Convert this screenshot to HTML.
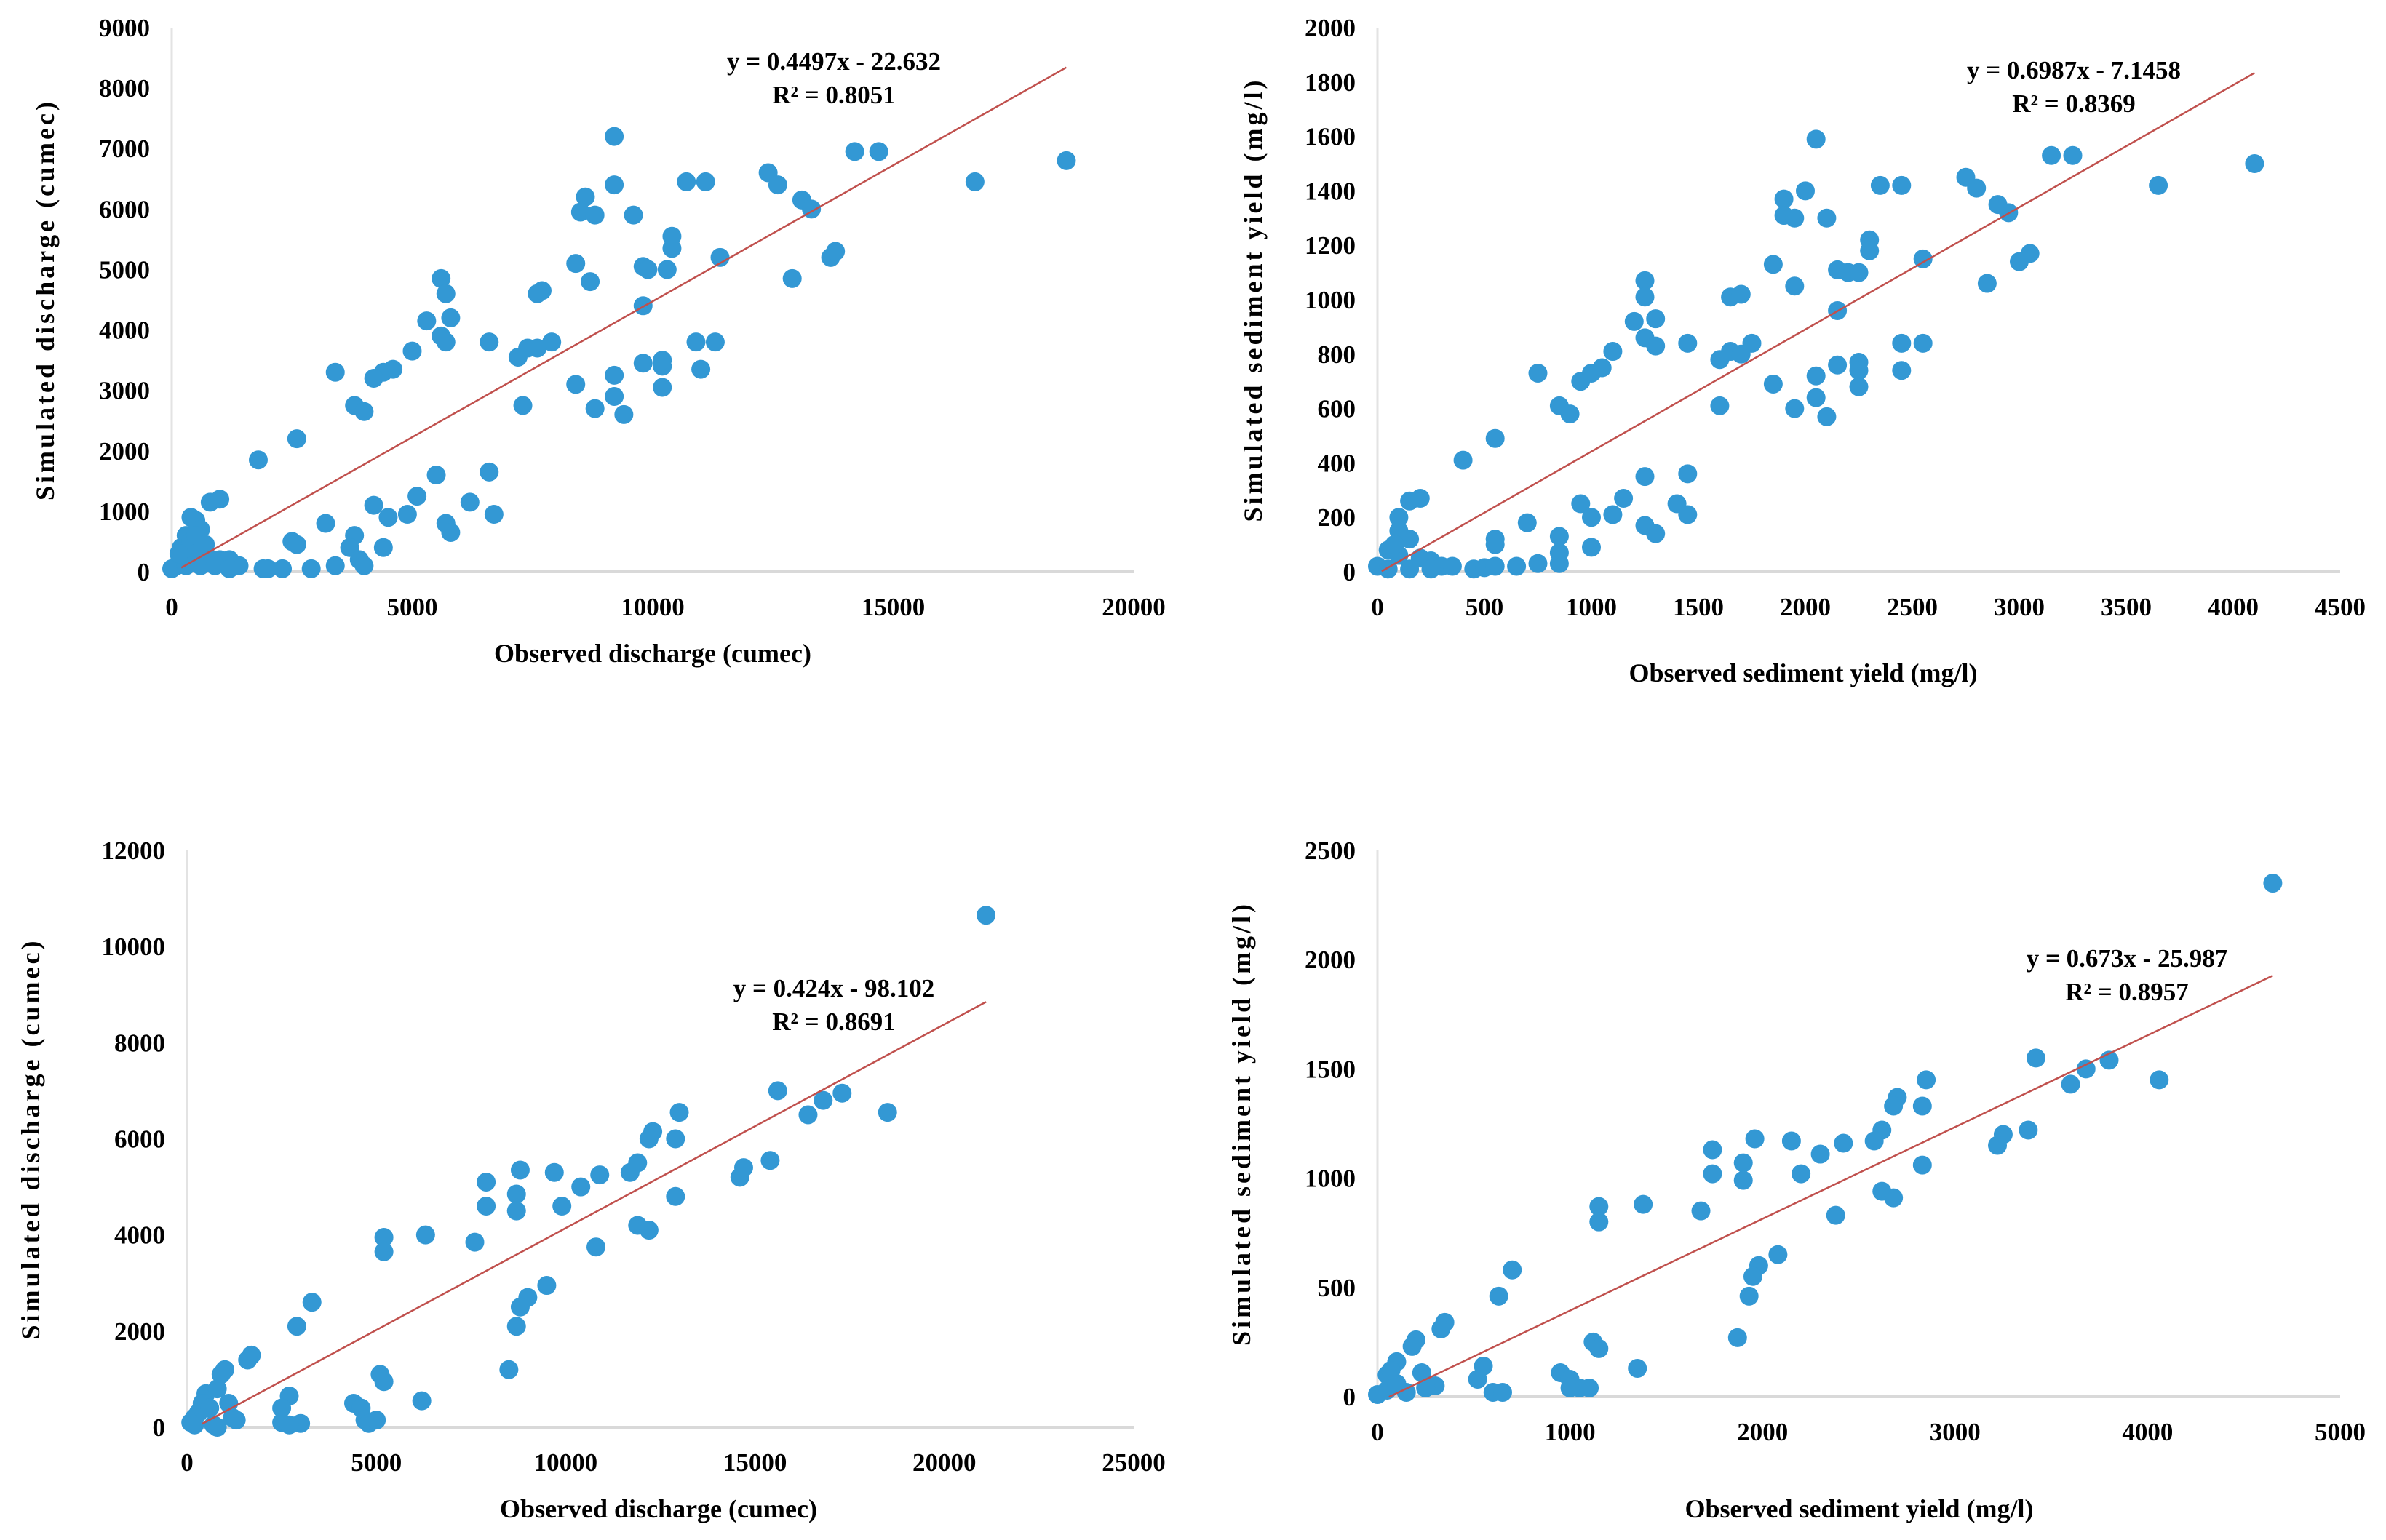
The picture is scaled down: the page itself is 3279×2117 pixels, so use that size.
<!DOCTYPE html>
<html><head><meta charset="utf-8">
<style>
html,body{margin:0;padding:0;background:#fff;}
svg{display:block;font-family:"Liberation Serif",serif;font-weight:bold;}
</style></head>
<body>
<svg id="fig" width="3279" height="2117" viewBox="0 0 3279 2117" xmlns="http://www.w3.org/2000/svg"></svg>
<script>
// ---- data ----
const obsQ1 = [9200,14200,14700,18600,16700,12400,12600,10700,11100,9200,8600,8500,8800,9600,13100,13300,10400,10400,11400,13700,13800,12900,8400,9800,9900,10300,8700,5600,5700,7600,7700,9800,5300,5800,5600,5700,6600,7900,7200,7400,7600,10900,11300,10200,9800,10200,11000,4600,4400,4200,5000,3400,9200,8400,10200,9200,3800,4000,8800,9400,7300,2600,1800,5500,6600,6200,5100,4200,4500,4900,6700,5700,5800,3200,3800,4400,2500,2600,3700,3900,4000,3400,2900,2300,2000,1900,800,1000,400,500,300,600,200,400,500,700,800,1000,1200,1400,100,0,200,300,600,900,1200,500,700,150];
const simQ1 = [7200,6950,6950,6800,6450,6600,6400,6450,6450,6400,6200,5950,5900,5900,6150,6000,5550,5350,5200,5200,5300,4850,5100,5050,5000,5000,4800,4850,4600,4600,4650,4400,4150,4200,3900,3800,3800,3800,3550,3700,3700,3800,3800,3400,3450,3500,3350,3350,3300,3200,3650,3300,3250,3100,3050,2900,2750,2650,2700,2600,2750,2200,1850,1600,1650,1150,1250,1100,900,950,950,800,650,800,600,400,500,450,400,200,100,100,50,50,50,50,1150,1200,900,850,600,700,400,500,300,300,200,200,200,100,100,50,200,100,100,100,50,600,450,300];
const obsS1 = [2050,3150,3250,4100,3650,2750,2800,2350,2450,2000,1900,1900,1950,2100,2900,2950,2300,2300,1850,2550,3000,3050,2150,2200,2250,2850,1950,1250,1250,1650,1700,2150,1200,1300,1100,1250,1300,1450,1750,1600,1650,1700,2450,2550,750,950,1000,1050,2150,2250,2250,2450,2050,2250,1850,2050,1600,1950,2100,850,900,550,400,1250,1450,1400,1150,950,1000,1100,1450,1250,1300,700,850,1000,550,550,850,750,650,450,500,550,850,150,200,100,100,150,50,100,200,250,300,350,0,50,150,80,250];
const simS1 = [1590,1530,1530,1500,1420,1450,1410,1420,1420,1400,1370,1310,1300,1300,1350,1320,1220,1180,1130,1150,1140,1170,1110,1100,1100,1060,1050,1070,1010,1010,1020,960,920,930,810,860,830,840,840,780,810,800,840,840,730,700,730,750,760,770,740,740,720,680,690,640,610,600,570,610,580,490,410,350,360,250,270,250,200,210,210,170,140,180,130,90,120,100,70,30,20,10,15,20,30,260,270,200,150,120,80,60,50,40,20,20,20,10,10,100,10];
const obsQ2 = [21100,15600,17300,16800,16400,18500,13000,12300,12200,12900,8800,9700,10900,11700,11900,10400,7900,8700,7900,8700,9900,12900,11900,12200,14600,14700,15400,7600,5200,5200,6300,10800,9500,9000,8800,8700,3300,2900,1700,1600,1000,900,8500,5100,5200,6200,4400,4600,2700,2500,1100,500,400,300,200,100,1200,1300,2500,3000,2700,4700,4800,5000,700,600,800,200,800];
const simQ2 = [10650,7000,6950,6800,6500,6550,6550,6150,6000,6000,5350,5300,5250,5300,5500,5000,5100,4850,4600,4500,4600,4800,4200,4100,5200,5400,5550,3850,3950,3650,4000,3750,2950,2700,2500,2100,2600,2100,1500,1400,1200,1100,1200,1100,950,550,500,400,650,400,500,700,500,300,200,100,200,150,100,80,50,150,80,150,50,400,800,50,0];
const obsS2 = [4650,3420,3800,3680,3600,4060,2850,2700,2680,2830,2620,2580,2420,2150,1960,2300,1740,1900,1740,1900,2200,3380,3250,3220,2830,2620,2680,2380,1680,1150,1150,1380,2080,1980,1950,1930,1870,700,630,350,330,200,180,100,50,1120,1150,1350,950,1000,1050,1100,550,520,600,650,230,300,250,150,50,0,100,70,1000];
const simS2 = [2350,1550,1540,1500,1430,1450,1450,1370,1330,1330,1220,1170,1160,1170,1180,1110,1130,1070,1020,990,1020,1220,1200,1150,1060,940,910,830,850,870,800,880,650,600,550,460,270,580,460,340,310,260,230,160,100,250,220,130,110,80,40,40,140,80,20,20,110,50,40,20,30,10,60,120,40];
// drawn trendline slope/intercept as they appear in the plotted figure
const lineSlopes = [0.4497, 0.449, 0.424, 0.42];
const lineIntercepts = [-22.632, -7.1458, -98.102, -25.987];
const eqLabels = ["y = 0.4497x - 22.632","y = 0.6987x - 7.1458","y = 0.424x - 98.102","y = 0.673x - 25.987"];
const r2Labels = ["R² = 0.8051","R² = 0.8369","R² = 0.8691","R² = 0.8957"];
const xTicks1 = [0,5000,10000,15000,20000];
const yTicks1 = [0,1000,2000,3000,4000,5000,6000,7000,8000,9000];
const xTicks2 = [0,500,1000,1500,2000,2500,3000,3500,4000,4500];
const yTicks2 = [0,200,400,600,800,1000,1200,1400,1600,1800,2000];
const xTicks3 = [0,5000,10000,15000,20000,25000];
const yTicks3 = [0,2000,4000,6000,8000,10000,12000];
const xTicks4 = [0,1000,2000,3000,4000,5000];
const yTicks4 = [0,500,1000,1500,2000,2500];

const NS="http://www.w3.org/2000/svg";
const svg=document.getElementById('fig');
function mk(tag,attrs,parent){const e=document.createElementNS(NS,tag);for(const k in attrs)e.setAttribute(k,attrs[k]);(parent||svg).appendChild(e);return e;}

const panels=[
 {id:'q-cal',L:236,R:1558,B:786,T:38,xt:xTicks1,yt:yTicks1,xs:obsQ1,ys:simQ1,xl:'Observed discharge (cumec)',yl:'Simulated discharge (cumec)',xlx:897,xly:910,ylx:62,eqx:1146,eqy:96,lineFrom:200},
 {id:'s-cal',L:1893,R:3216,B:786,T:38,xt:xTicks2,yt:yTicks2,xs:obsS1,ys:simS1,xl:'Observed sediment yield (mg/l)',yl:'Simulated sediment yield (mg/l)',xlx:2478,xly:937,ylx:1722,eqx:2850,eqy:108,lineFrom:20},
 {id:'q-val',L:257,R:1558,B:1962,T:1169,xt:xTicks3,yt:yTicks3,xs:obsQ2,ys:simQ2,xl:'Observed discharge (cumec)',yl:'Simulated discharge (cumec)',xlx:905,xly:2086,ylx:42,eqx:1146,eqy:1370,lineFrom:400},
 {id:'s-val',L:1893,R:3216,B:1920,T:1169,xt:xTicks4,yt:yTicks4,xs:obsS2,ys:simS2,xl:'Observed sediment yield (mg/l)',yl:'Simulated sediment yield (mg/l)',xlx:2555,xly:2086,ylx:1706,eqx:2923,eqy:1329,lineFrom:60}
];

panels.forEach((p,i)=>{
 const g=mk('g',{});
 
 
 const xmax=p.xt[p.xt.length-1], ymax=p.yt[p.yt.length-1];
 const X=v=>p.L+(v/xmax)*(p.R-p.L);
 const Y=v=>p.B-(v/ymax)*(p.B-p.T);
 const ya=mk('line',{x1:p.L,y1:p.T,x2:p.L,y2:p.B,stroke:'#e3e3e3','stroke-width':3},g);
 
 
 const xa=mk('line',{x1:p.L,y1:p.B,x2:p.R,y2:p.B,stroke:'#d9d9d9','stroke-width':4},g);
 
 
 p.xt.forEach(t=>{
  const e=mk('text',{x:X(t),y:p.B+60,'text-anchor':'middle','font-size':35,fill:'#000'},g);
  e.textContent=t;
  
  
 });
 p.yt.forEach(t=>{
  const e=mk('text',{x:p.L-30,y:Y(t)+12,'text-anchor':'end','font-size':35,fill:'#000'},g);
  e.textContent=t;
  
  
 });
 const xl=mk('text',{x:p.xlx,y:p.xly,'text-anchor':'middle','font-size':36,fill:'#000'},g);
 xl.textContent=p.xl;
 
 
 const cy=(p.T+p.B)/2;
 const yl=mk('text',{x:0,y:0,'text-anchor':'middle','font-size':36,fill:'#000','letter-spacing':4,transform:`translate(${p.ylx+12},${cy}) rotate(-90)`},g);
 yl.textContent=p.yl;
 
 
 p.xs.forEach((v,k)=>{
  const c=mk('circle',{cx:X(v),cy:Y(p.ys[k]),r:13,fill:'#3398d4'},g);
  
  
 });
 const x1=p.lineFrom, x2=Math.max(...p.xs);
 const tl=mk('line',{x1:X(x1),y1:Y(lineSlopes[i]*x1+lineIntercepts[i]),x2:X(x2),y2:Y(lineSlopes[i]*x2+lineIntercepts[i]),stroke:'#c0504d','stroke-width':2.5},g);
 
 
 const e1=mk('text',{x:p.eqx,y:p.eqy,'text-anchor':'middle','font-size':35,fill:'#000'},g);
 e1.textContent=eqLabels[i];
 
 
 const e2=mk('text',{x:p.eqx,y:p.eqy+46,'text-anchor':'middle','font-size':35,fill:'#000'},g);
 e2.textContent=r2Labels[i];
 
 
});
</script>
</body></html>
